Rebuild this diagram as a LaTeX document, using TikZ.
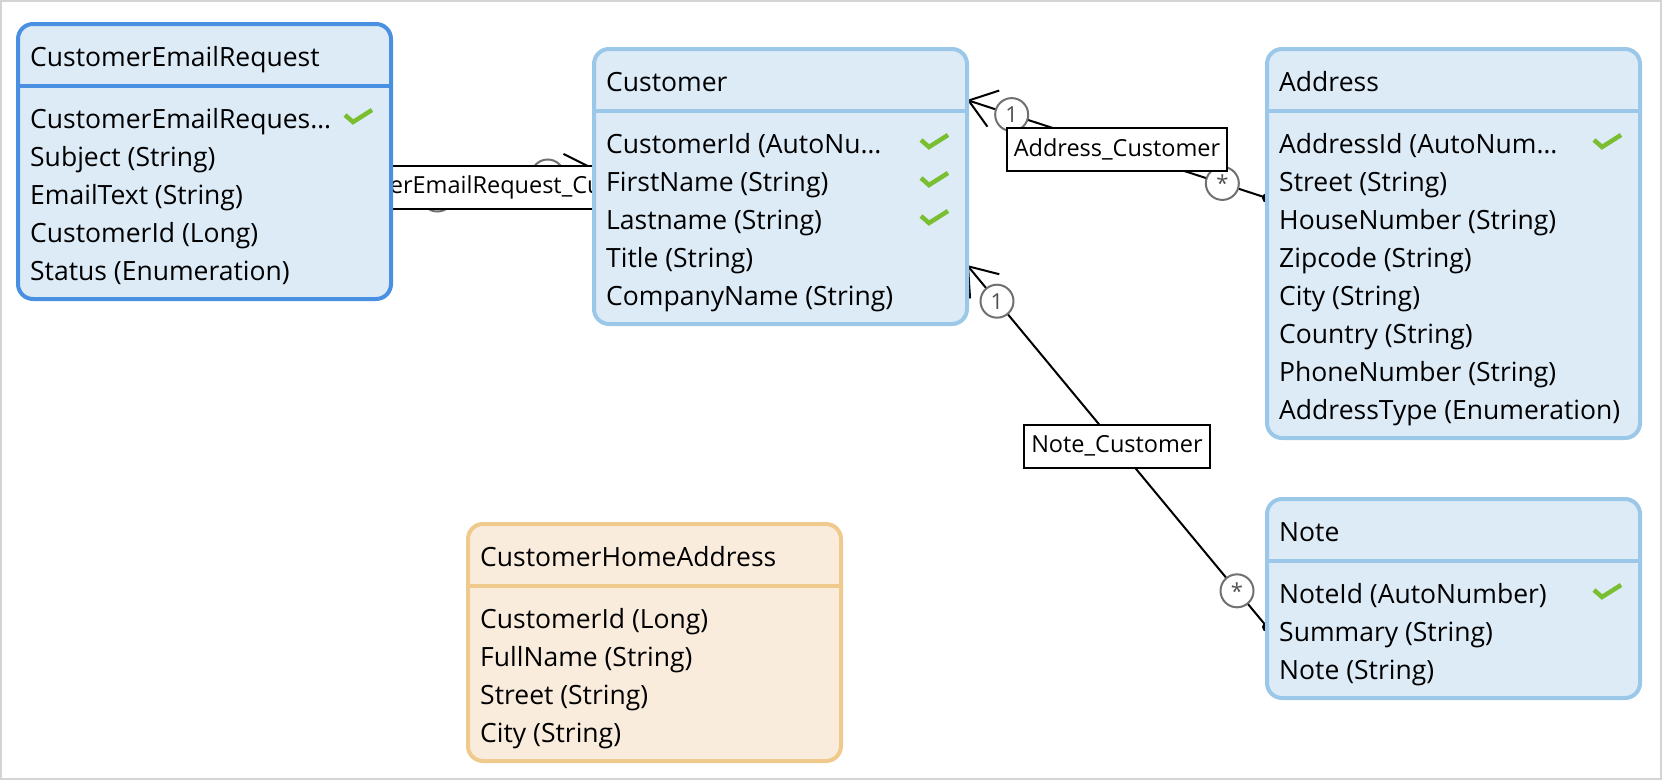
\documentclass[tikz,border=0pt]{standalone}
\usepackage{fontspec}
\setmainfont{Open Sans}
\usetikzlibrary{arrows.meta,calc,positioning,backgrounds}

\definecolor{entityfill}{RGB}{221,235,247}
\definecolor{entityline}{RGB}{155,199,232}
\definecolor{selline}{RGB}{74,144,226}
\definecolor{viewfill}{RGB}{250,236,221}
\definecolor{viewline}{RGB}{240,201,140}
\definecolor{keygreen}{RGB}{122,190,50}
\definecolor{framegray}{RGB}{212,212,212}
\definecolor{multgray}{RGB}{112,112,112}
\definecolor{multtext}{RGB}{80,80,80}

\tikzset{
  entity/.style={draw=entityline, fill=entityfill, line width=4pt, rounded corners=15pt,
    minimum width=373pt, inner sep=0pt, outer sep=0pt, anchor=north west},
  selected/.style={draw=selline},
  view/.style={draw=viewline, fill=viewfill},
  divider/.style={line width=3.5pt},
  field/.style={anchor=base west, inner sep=0pt, font=\fontsize{26.5}{30}\selectfont},
  assoc/.style={line width=2pt, -{Straight Barb[length=26pt,width=38pt]}},
  mult/.style={circle, draw=multgray, fill=white, line width=2pt, minimum size=33pt,
    inner sep=0pt, text=multtext, font=\fontsize{22}{22}\selectfont},
  assoclabel/.style={draw, fill=white, line width=2pt, inner xsep=7pt, inner ysep=0pt,
    minimum height=43pt, font=\fontsize{23.5}{24}\selectfont},
  keymark/.pic={\draw[keygreen, line width=4.5pt] (0,-13) -- (8,-6) -- (27,-18);}
}

\begin{document}
\begin{tikzpicture}[x=1pt,y=-1pt]
  \useasboundingbox (0,0) rectangle (1663,780);

  % entities
  \node[entity, selected, minimum height=275pt] (cer) at (18,24) {};
  \draw[divider, selline] ($(cer.north west)+(0,62)$) -- ($(cer.north east)+(0,62)$);
  \node[field] (cer-title) at ($(cer.north west)+(12,42)$) {CustomerEmailRequest};
  \foreach \row [count=\k from 0] in {CustomerEmailReques…, Subject (String),
      EmailText (String), CustomerId (Long), Status (Enumeration)}
    \node[field] (cer-\k) at ($(cer.north west)+(12,{104+38*\k})$) {\row};
  \pic at ($(cer.north west)+(327,104)$) {keymark};

  \node[entity, minimum height=275pt] (customer) at (594,49) {};
  \draw[divider, entityline] ($(customer.north west)+(0,62)$) -- ($(customer.north east)+(0,62)$);
  \node[field] (customer-title) at ($(customer.north west)+(12,42)$) {Customer};
  \foreach \row [count=\k from 0] in {CustomerId (AutoNu…, FirstName (String),
      Lastname (String), Title (String), CompanyName (String)}
    \node[field] (customer-\k) at ($(customer.north west)+(12,{104+38*\k})$) {\row};
  \foreach \k in {0,1,2}
    \pic at ($(customer.north west)+(327,{104+38*\k})$) {keymark};

  \node[entity, minimum height=389pt] (address) at (1267,49) {};
  \draw[divider, entityline] ($(address.north west)+(0,62)$) -- ($(address.north east)+(0,62)$);
  \node[field] (address-title) at ($(address.north west)+(12,42)$) {Address};
  \foreach \row [count=\k from 0] in {AddressId (AutoNum…, Street (String),
      HouseNumber (String), Zipcode (String), City (String), Country (String),
      PhoneNumber (String), AddressType (Enumeration)}
    \node[field] (address-\k) at ($(address.north west)+(12,{104+38*\k})$) {\row};
  \pic at ($(address.north west)+(327,104)$) {keymark};

  \node[entity, minimum height=199pt] (note) at (1267,499) {};
  \draw[divider, entityline] ($(note.north west)+(0,62)$) -- ($(note.north east)+(0,62)$);
  \node[field] (note-title) at ($(note.north west)+(12,42)$) {Note};
  \foreach \row [count=\k from 0] in {NoteId (AutoNumber), Summary (String), Note (String)}
    \node[field] (note-\k) at ($(note.north west)+(12,{104+38*\k})$) {\row};
  \pic at ($(note.north west)+(327,104)$) {keymark};

  \node[entity, view, minimum height=237pt] (homeaddr) at (468,524) {};
  \draw[divider, viewline] ($(homeaddr.north west)+(0,62)$) -- ($(homeaddr.north east)+(0,62)$);
  \node[field] (homeaddr-title) at ($(homeaddr.north west)+(12,42)$) {CustomerHomeAddress};
  \foreach \row [count=\k from 0] in {CustomerId (Long), FullName (String),
      Street (String), City (String)}
    \node[field] (homeaddr-\k) at ($(homeaddr.north west)+(12,{104+38*\k})$) {\row};

  % associations, behind the entities
  \begin{scope}[on background layer]
    \draw[framegray, line width=2pt] (1,1) rectangle (1661,779);

    \coordinate (cer-e) at (cer.east |- 0,203);
    \coordinate (cu-w) at (customer.west |- 0,168);
    \coordinate (cu-e1) at (customer.east |- 0,100);
    \coordinate (ad-w) at (address.west |- 0,198);
    \coordinate (cu-e2) at (customer.east |- 0,265);
    \coordinate (no-w) at (note.west |- 0,627);

    \draw[assoc] (cer-e) -- (cu-w);
    \fill (cer-e) circle (5);
    \node[mult] (cer-many) at ($(cer-e)!47pt!(cu-w)$) {\raisebox{-6pt}{*}};
    \node[mult] (cer-one) at ($(cu-w)!47pt!(cer-e)$) {1};
    \node[assoclabel] (cer-label) at ($(cer-e)!0.5!(cu-w)+(0,2)$) {CustomerEmailRequest\_Customer};

    \draw[assoc] (ad-w) -- (cu-e1);
    \fill (ad-w) circle (5);
    \node[mult] (ad-many) at ($(ad-w)!47pt!(cu-e1)$) {\raisebox{-6pt}{*}};
    \node[mult] (ad-one) at ($(cu-e1)!47pt!(ad-w)$) {1};
    \node[assoclabel] (ad-label) at ($(ad-w)!0.5!(cu-e1)$) {Address\_Customer};

    \draw[assoc] (no-w) -- (cu-e2);
    \fill (no-w) circle (5);
    \node[mult] (no-many) at ($(no-w)!47pt!(cu-e2)$) {\raisebox{-6pt}{*}};
    \node[mult] (no-one) at ($(cu-e2)!47pt!(no-w)$) {1};
    \node[assoclabel] (no-label) at ($(no-w)!0.5!(cu-e2)$) {Note\_Customer};
  \end{scope}
\end{tikzpicture}
\end{document}
